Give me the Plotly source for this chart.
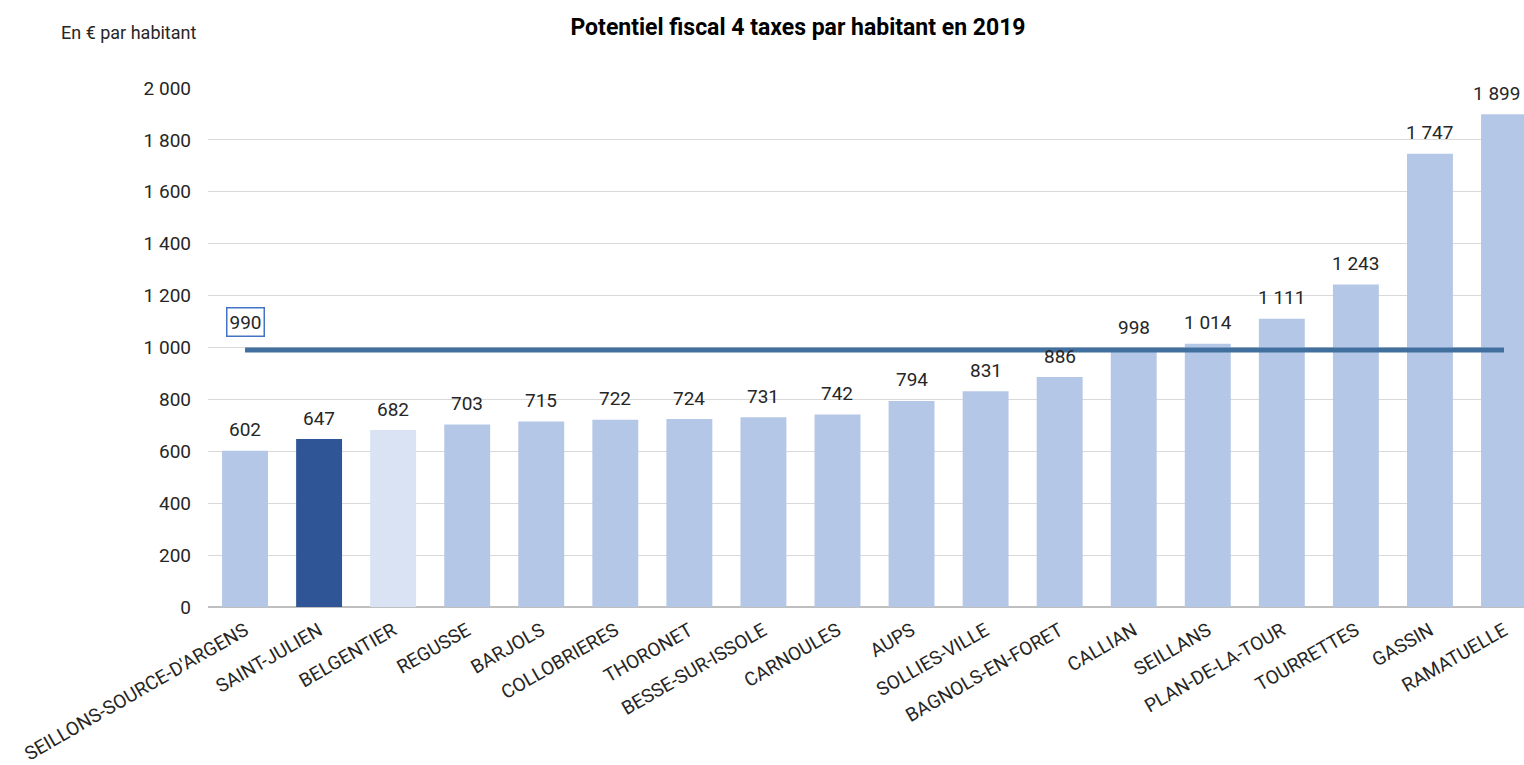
import plotly.graph_objects as go

communes = ["SEILLONS-SOURCE-D'ARGENS", "SAINT-JULIEN", "BELGENTIER", "REGUSSE", "BARJOLS",
            "COLLOBRIERES", "THORONET", "BESSE-SUR-ISSOLE", "CARNOULES", "AUPS",
            "SOLLIES-VILLE", "BAGNOLS-EN-FORET", "CALLIAN", "SEILLANS", "PLAN-DE-LA-TOUR",
            "TOURRETTES", "GASSIN", "RAMATUELLE"]
valeurs = [602, 647, 682, 703, 715, 722, 724, 731, 742, 794, 831, 886, 998, 1014, 1111, 1243, 1747, 1899]
moyenne = 990
y_ticks = [0, 200, 400, 600, 800, 1000, 1200, 1400, 1600, 1800, 2000]

c_base = "#b4c7e7"
c_sel = "#2f5597"
c_light = "#dae3f3"
colors = [c_base] * len(communes)
colors[1] = c_sel
colors[2] = c_light

def fmt(v):
    return f"{v:,}".replace(",", "\u00a0")

FONT = "Roboto"
TXT = "#262626"

fig = go.Figure()
fig.add_trace(go.Bar(x=communes, y=valeurs, marker_color=colors, marker_line_width=0,
                     width=0.62, hoverinfo="x+y"))
fig.add_trace(go.Scatter(x=communes, y=[moyenne] * len(communes), mode="lines",
                         line=dict(color="#41709f", width=5), hoverinfo="skip"))

n = len(communes)
for i, (c, v) in enumerate(zip(communes, valeurs)):
    fig.add_annotation(x=c, y=v, text=fmt(v), showarrow=False, yshift=21,
                       xshift=-8 if i == n - 1 else 0,
                       font=dict(family=FONT, size=19, color=TXT))

fig.add_annotation(x=communes[0], y=moyenne, text=str(moyenne), showarrow=False, yshift=28,
                   font=dict(family=FONT, size=19, color=TXT),
                   bordercolor="#4472c4", borderwidth=1.5, borderpad=2, bgcolor="white")

fig.add_annotation(xref="paper", yref="paper", x=-146 / 1316 - 0.002, y=1 + 55 / 519,
                   xanchor="left", yanchor="middle", text="En € par habitant", showarrow=False,
                   font=dict(family=FONT, size=18, color=TXT))

fig.update_layout(
    width=1524, height=765,
    margin=dict(l=208, r=0, t=88, b=158),
    paper_bgcolor="white", plot_bgcolor="white",
    showlegend=False,
    title=dict(text="<b>Potentiel fiscal 4 taxes par habitant en 2019</b>",
               x=798 / 1524, xanchor="center", xref="container",
               y=1 - 27 / 765, yanchor="middle",
               font=dict(family=FONT, size=23, color="#000000")),
    font=dict(family=FONT, color=TXT),
    bargap=0.38,
)
fig.update_xaxes(range=[-0.5, 17.27], tickangle=-30, tickfont=dict(size=19, color=TXT),
                 showgrid=False, ticks="", showline=False, automargin=False,
                 ticklabelstandoff=8)
fig.update_yaxes(range=[0, 2000], tickvals=y_ticks, ticktext=[fmt(t) for t in y_ticks],
                 tickfont=dict(size=19, color=TXT), showgrid=True, gridcolor="#d9d9d9",
                 gridwidth=1.3, zeroline=True, zerolinecolor="#bfbfbf", zerolinewidth=1.5,
                 ticks="", ticklabelstandoff=16, showline=False, automargin=False)

fig.write_html("out.html")
